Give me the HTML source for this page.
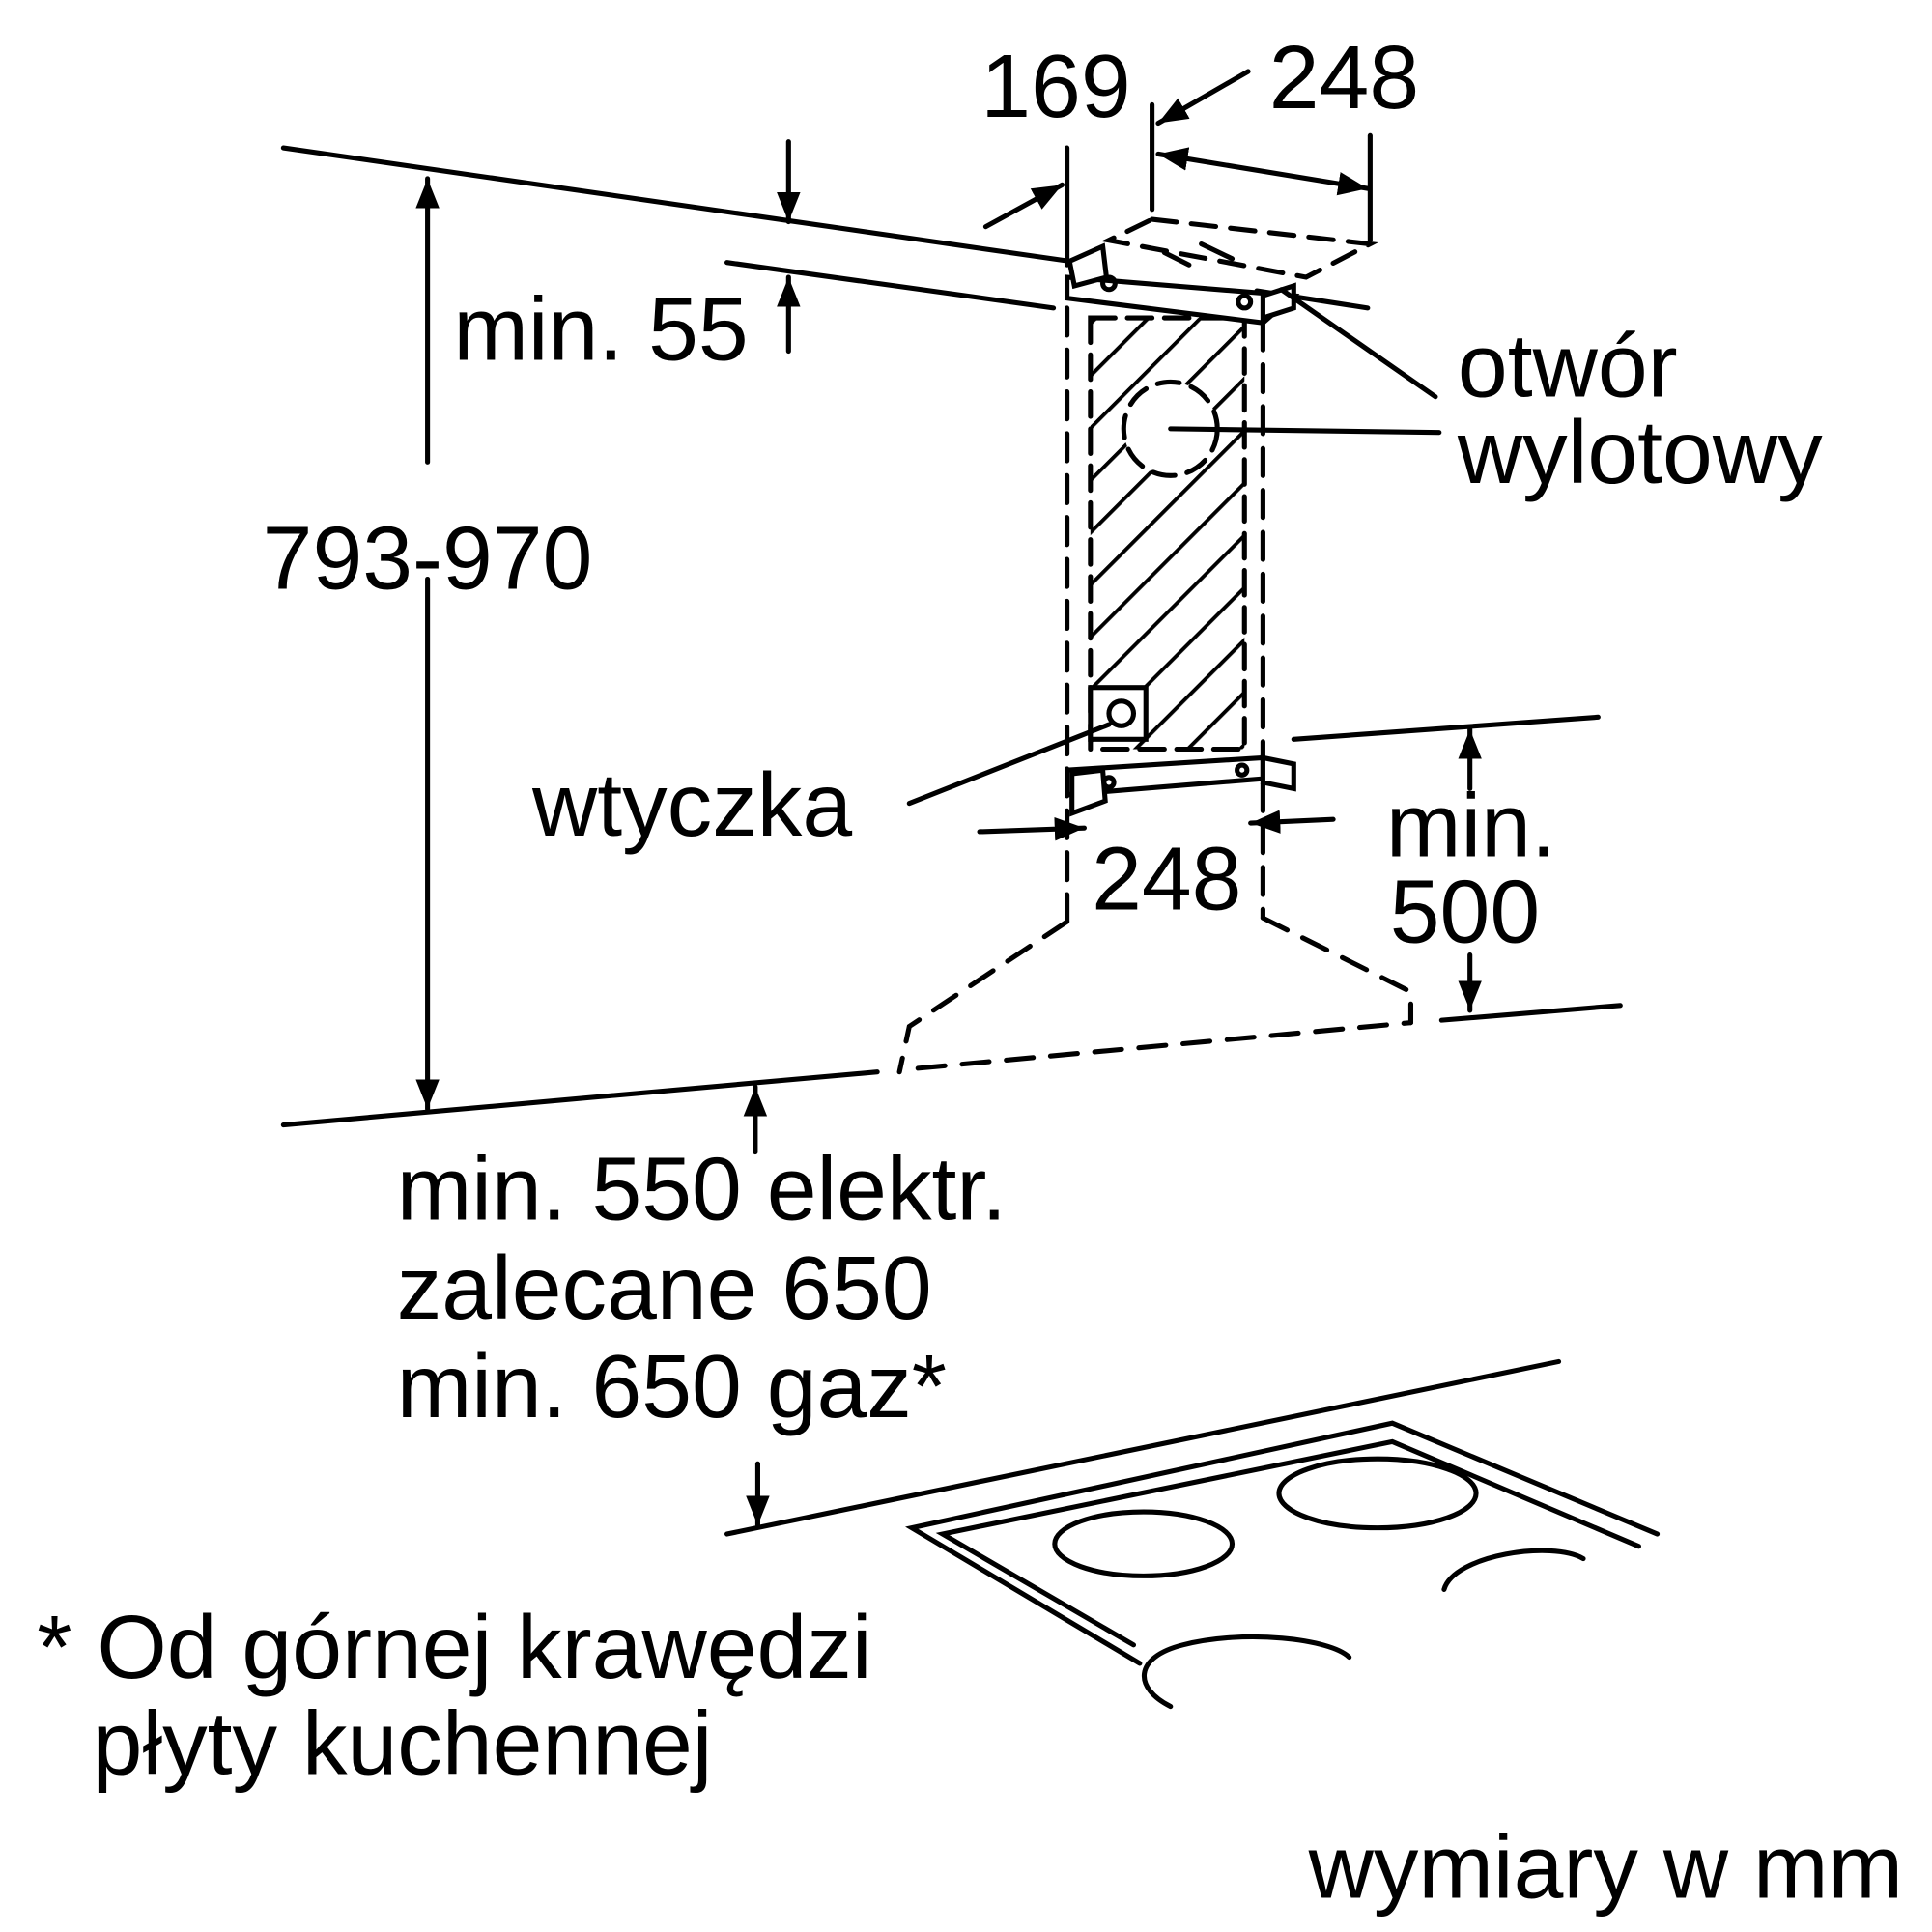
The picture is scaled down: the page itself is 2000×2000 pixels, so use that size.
<!DOCTYPE html>
<html><head><meta charset="utf-8"><style>html,body{margin:0;padding:0;background:#fff}svg{display:block}</style></head><body>
<svg width="2000" height="2000" viewBox="0 0 1568 1568" xmlns="http://www.w3.org/2000/svg">
<defs>
<marker id="a" viewBox="0 0 10 10" refX="10" refY="5" markerWidth="6" markerHeight="6" orient="auto-start-reverse"><path d="M0,1 L10,5 L0,9 z" fill="#000"/></marker>
<pattern id="h" width="30" height="30" patternUnits="userSpaceOnUse" patternTransform="rotate(45)"><line x1="0" y1="0" x2="0" y2="30" stroke="#000" stroke-width="6"/></pattern>
</defs>
<g stroke="#000" stroke-width="4" fill="none" stroke-linecap="round">
<line x1="230" y1="120" x2="868" y2="212"/>
<line x1="1020" y1="236" x2="1110" y2="250"/>
<line x1="590" y1="213" x2="855" y2="250"/>
<line x1="640" y1="115" x2="640" y2="180" marker-end="url(#a)"/>
<line x1="640" y1="285" x2="640" y2="225" marker-end="url(#a)"/>
<line x1="347" y1="375" x2="347" y2="145" marker-end="url(#a)"/>
<line x1="347" y1="470" x2="347" y2="900" marker-end="url(#a)"/>
<line x1="230" y1="913" x2="712" y2="870"/>
<line x1="745" y1="867" x2="1145" y2="830" stroke-dasharray="22,14"/>
<line x1="613" y1="935" x2="613" y2="882" marker-end="url(#a)"/>
<line x1="615" y1="1188" x2="615" y2="1238" marker-end="url(#a)"/>
<line x1="590" y1="1245" x2="1265" y2="1105"/>
<path d="M925,1350 L740,1240 L1130,1155 L1345,1245"/>
<path d="M920,1335 L765,1245 L1130,1170 L1330,1255"/>
<ellipse cx="928" cy="1253" rx="72" ry="26"/>
<ellipse cx="1118" cy="1212" rx="80" ry="28"/>
<path d="M1172,1290 C1180,1262 1260,1250 1285,1265"/>
<path d="M950,1385 C920,1370 920,1345 960,1335 C1010,1322 1080,1330 1095,1345"/>
<line x1="866" y1="250" x2="866" y2="748" stroke-dasharray="22,12"/>
<line x1="1025" y1="262" x2="1025" y2="745" stroke-dasharray="22,12"/>
<rect x="885" y="258" width="125" height="350" fill="url(#h)" stroke-dasharray="20,10"/>
<circle cx="950" cy="348" r="38" fill="#fff" stroke-dasharray="18,10"/>
<path d="M866,748 L738,833 L730,870" stroke-dasharray="22,14"/>
<path d="M1025,745 L1145,805 L1145,830" stroke-dasharray="22,14"/>
<path d="M866,225 L1050,240 L1025,262 L866,242 z" fill="#fff"/>
<path d="M868,212 L895,200 L898,225 L872,232 z" fill="#fff"/>
<path d="M1025,240 L1050,232 L1050,250 L1025,258 z" fill="#fff"/>
<circle cx="900" cy="230" r="5"/><circle cx="1010" cy="245" r="5"/>
<path d="M866,625 L1025,615 L1025,632 L866,645 z" fill="#fff"/>
<path d="M870,628 L895,625 L897,650 L870,660 z" fill="#fff"/>
<path d="M1025,615 L1050,620 L1050,640 L1025,635 z" fill="#fff"/>
<rect x="885" y="558" width="45" height="42" fill="#fff"/>
<circle cx="910" cy="579" r="10"/>
<circle cx="900" cy="635" r="4"/><circle cx="1008" cy="625" r="4"/>
<path d="M935,178 L1112,198 L1060,225 L900,195 z" stroke-dasharray="20,12"/>
<path d="M945,205 L965,215 M975,198 L1000,210" />
<line x1="866" y1="120" x2="866" y2="215"/>
<line x1="800" y1="184" x2="862" y2="150" marker-end="url(#a)"/>
<line x1="935" y1="85" x2="935" y2="170"/>
<line x1="1112" y1="110" x2="1112" y2="195"/>
<line x1="1013" y1="58" x2="940" y2="100" marker-end="url(#a)"/>
<line x1="940" y1="125" x2="1110" y2="153" marker-start="url(#a)" marker-end="url(#a)"/>
<line x1="950" y1="348" x2="1168" y2="351"/>
<line x1="1040" y1="235" x2="1165" y2="322"/>
<line x1="738" y1="652" x2="900" y2="588"/>
<line x1="795" y1="675" x2="880" y2="672" marker-end="url(#a)"/>
<line x1="1082" y1="665" x2="1015" y2="668" marker-end="url(#a)"/>
<line x1="1050" y1="600" x2="1297" y2="582"/>
<line x1="1170" y1="828" x2="1315" y2="816"/>
<line x1="1193" y1="640" x2="1193" y2="592" marker-end="url(#a)"/>
<line x1="1193" y1="775" x2="1193" y2="820" marker-end="url(#a)"/>
</g>
<g font-family="Liberation Sans, sans-serif" font-size="73" fill="#000">
<text x="368" y="292">min. 55</text>
<text x="213" y="478">793-970</text>
<text x="796" y="95">169</text>
<text x="1030" y="88">248</text>
<text x="886" y="738">248</text>
<text x="1125" y="695">min.</text>
<text x="1128" y="765">500</text>
<text x="1183" y="322">otwór</text>
<text x="1183" y="392">wylotowy</text>
<text x="432" y="678">wtyczka</text>
<text x="322" y="990">min. 550 elektr.</text>
<text x="322" y="1070">zalecane 650</text>
<text x="322" y="1150">min. 650 gaz*</text>
<text x="30" y="1362">* Od górnej krawędzi</text>
<text x="75" y="1440">płyty kuchennej</text>
<text x="1062" y="1540">wymiary w mm</text>
</g>
</svg>
</body></html>
